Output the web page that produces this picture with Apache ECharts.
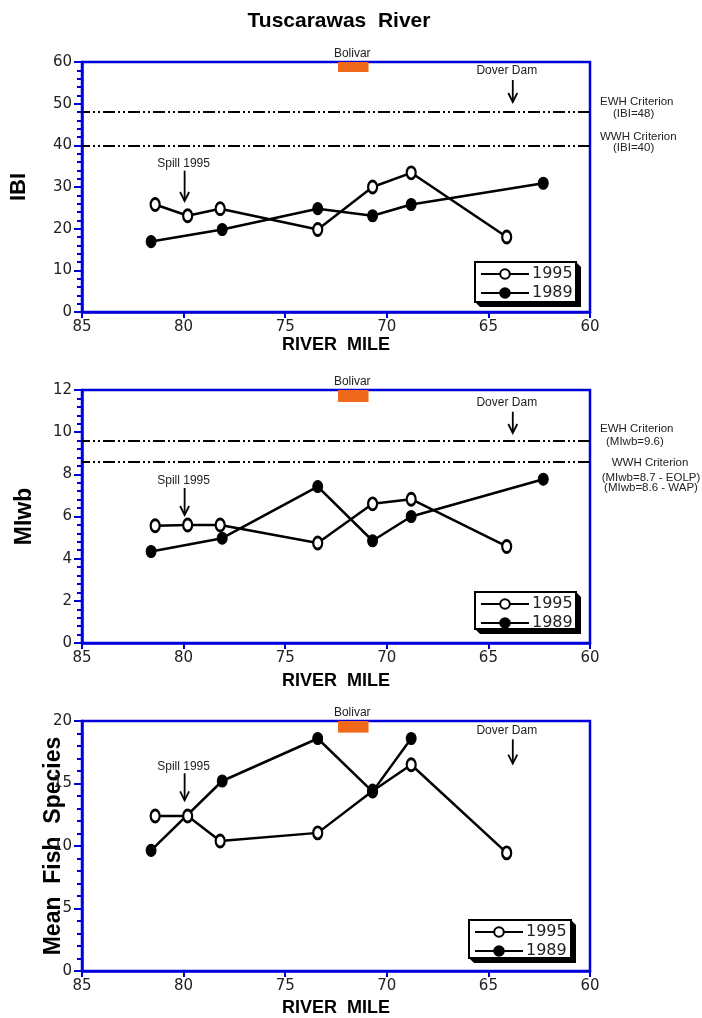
<!DOCTYPE html>
<html><head><meta charset="utf-8">
<script src="https://cdn.jsdelivr.net/npm/echarts@6/dist/echarts.min.js"></script>
<style>html,body{margin:0;padding:0;background:#fff}#c{width:702px;height:1018px}</style>
</head><body><div id="c"></div>
<script>
// ---- data ----
const xTicks = [85, 80, 75, 70, 65, 60];
const miles1995 = [81.4, 79.8, 78.2, 73.4, 70.7, 68.8, 64.1];
const miles1989 = [81.6, 78.1, 73.4, 70.7, 68.8, 62.3];
const ibi1995 = [25.8, 23.1, 24.8, 19.8, 30.0, 33.4, 18.0];
const ibi1989 = [16.9, 19.8, 24.8, 23.1, 25.8, 30.9];
const miwb1995 = [5.56, 5.6, 5.6, 4.74, 6.6, 6.82, 4.58];
const miwb1989 = [4.34, 4.97, 7.42, 4.85, 6.0, 7.77];
const species1995 = [12.4, 12.4, 10.4, 11.05, 14.4, 16.5, 9.45];
const species1989Miles = [81.6, 78.1, 73.4, 70.7, 68.8];
const species1989 = [9.65, 15.2, 18.6, 14.35, 18.6];
const ibiCriteria = [48, 40];
const miwbCriteria = [9.6, 8.6];
const ibiTicks = [0, 10, 20, 30, 40, 50, 60];
const miwbTicks = [0, 2, 4, 6, 8, 10, 12];
const speciesTicks = [0, 5, 10, 15, 20];
const bolivarMiles = [72.4, 70.9];
const seriesNames = ['1995', '1989'];

// ---- styling ----
const BLUE = '#0000dc';
const zip = (a, b) => a.map((v, i) => [v, b[i]]);
const ell = 'path://M10,0A10,10 0 1,1 10,20A10,10 0 1,1 10,0Z';
const dashPat = [12, 3, 2, 3, 2, 3];

const panels = [
  {top: 62, height: 250, yName: 'IBI', yNameSize: 22, yNameGap: 52, ticks: ibiTicks,
   v95: ibi1995, m89: miles1989, v89: ibi1989, crit: ibiCriteria, bolDepth: 2.4, xNameGap: 24,
   legendTop: 262, legendLeft: 475, legendW: 101, legendH: 40},
  {top: 390, height: 253, yName: 'MIwb', yNameSize: 23, yNameGap: 46, ticks: miwbTicks,
   v95: miwb1995, m89: miles1989, v89: miwb1989, crit: miwbCriteria, bolDepth: 0.57, xNameGap: 29,
   legendTop: 592, legendLeft: 475, legendW: 101, legendH: 37},
  {top: 721, height: 250, yName: 'Mean  Fish  Species', yNameSize: 23, yNameGap: 17, ticks: speciesTicks,
   v95: species1995, m89: species1989Miles, v89: species1989, crit: [], bolDepth: 0.93, xNameGap: 28,
   legendTop: 920, legendLeft: 469, legendW: 102, legendH: 38}
];

const grid = [], xAxis = [], yAxis = [], series = [], legend = [];
panels.forEach((p, i) => {
  const yMax = p.ticks[p.ticks.length - 1];
  grid.push({left: 82, width: 508, top: p.top, height: p.height, show: true,
    borderColor: BLUE, borderWidth: 2.5, backgroundColor: 'transparent'});
  xAxis.push({gridIndex: i, type: 'value', min: xTicks[xTicks.length - 1], max: xTicks[0],
    interval: 5, inverse: true,
    name: 'RIVER  MILE', nameLocation: 'middle', nameGap: p.xNameGap, nameMoveOverlap: false,
    nameTextStyle: {fontFamily: 'Liberation Sans', fontWeight: 'bold', fontSize: 18, color: '#000'},
    axisLine: {show: true, lineStyle: {color: BLUE, width: 2.5}},
    axisTick: {show: true, length: 6, lineStyle: {color: BLUE, width: 2}},
    axisLabel: {fontFamily: 'DejaVu Sans', fontSize: 15, color: '#222', margin: 8},
    splitLine: {show: false}});
  yAxis.push({gridIndex: i, type: 'value', min: 0, max: yMax, interval: p.ticks[1] - p.ticks[0],
    name: p.yName, nameLocation: 'middle', nameRotate: 90, nameGap: p.yNameGap, nameMoveOverlap: false,
    nameTextStyle: {fontFamily: 'Liberation Sans', fontWeight: 'bold', fontSize: p.yNameSize, color: '#000'},
    axisLine: {show: true, lineStyle: {color: BLUE, width: 2.5}},
    axisTick: {show: true, length: 8, lineStyle: {color: BLUE, width: 2}},
    minorTick: {show: true, splitNumber: 5, length: 5, lineStyle: {color: BLUE, width: 2}},
    axisLabel: {fontFamily: 'DejaVu Sans', fontSize: 15, color: '#222', margin: 10, padding: [0, 0, 4, 0]},
    splitLine: {show: false}});
  series.push({type: 'line', name: seriesNames[0], xAxisIndex: i, yAxisIndex: i,
    data: zip(miles1995, p.v95), symbol: ell, symbolSize: [9, 12], z: 4,
    lineStyle: {color: '#000', width: 2.5},
    itemStyle: {color: '#fff', borderColor: '#000', borderWidth: 2.5},
    markLine: {silent: true, symbol: ['none', 'none'], label: {show: false},
      lineStyle: {color: '#000', width: 2, type: dashPat},
      data: p.crit.map(v => ({yAxis: v}))},
    markArea: {silent: true, itemStyle: {color: '#f0691a', opacity: 1},
      data: [[{xAxis: bolivarMiles[0], yAxis: yMax}, {xAxis: bolivarMiles[1], yAxis: yMax - p.bolDepth}]]}
  });
  series.push({type: 'line', name: seriesNames[1], xAxisIndex: i, yAxisIndex: i,
    data: zip(p.m89, p.v89), symbol: ell, symbolSize: [10, 12], z: 4,
    lineStyle: {color: '#000', width: 2.5},
    itemStyle: {color: '#000', borderColor: '#000', borderWidth: 1}});
  legend.push({data: seriesNames, orient: 'vertical', left: p.legendLeft + 5, top: p.legendTop + 4,
    itemGap: 3, itemWidth: 48, itemHeight: 12, padding: 0, z: 20, selectedMode: false,
    textStyle: {fontFamily: 'DejaVu Sans', fontSize: 16, color: '#222', padding: [0, 0, 0, -2]}});
});

const chart = echarts.init(document.getElementById('c'), null, {renderer: 'canvas'});
chart.setOption({
  animation: false,
  title: {text: 'Tuscarawas  River', left: 334, top: 6, textAlign: 'center',
    textStyle: {fontFamily: 'Liberation Sans', fontWeight: 'bold', fontSize: 21, color: '#000'}},
  grid, xAxis, yAxis, series, legend
});

// ---- annotations ----
const graphics = [];
const txt = (text, x, y, align, size) => graphics.push({type: 'text', z: 10,
  style: {text, x, y, align: align || 'center', verticalAlign: 'middle',
    font: (size || 12) + 'px "Liberation Sans"', fill: '#222'}});
const arrow = (x, y0, y1) => {
  graphics.push({type: 'polyline', z: 10, shape: {points: [[x, y0], [x, y1]]}, style: {stroke: '#000', lineWidth: 1.8, fill: null}});
  graphics.push({type: 'polyline', z: 10, shape: {points: [[x - 4.5, y1 - 9], [x, y1], [x + 4.5, y1 - 9]]}, style: {stroke: '#000', lineWidth: 1.8, fill: null}});
};
const spillArrows = [[108.7, 139], [98, 125], [52.3, 79.3]];
const doverArrows = [[18, 40], [21.7, 43], [18.3, 42.6]];
panels.forEach((p, i) => {
  const xb = chart.convertToPixel({gridIndex: i}, [71.7, 0])[0];
  txt('Bolivar', xb, p.top - 8);
  const xs = chart.convertToPixel({gridIndex: i}, [79.95, 0])[0];
  const [s0, s1] = spillArrows[i];
  txt('Spill 1995', xs - 1, p.top + s0 - 7);
  arrow(xs, p.top + s0, p.top + s1);
  const xd = chart.convertToPixel({gridIndex: i}, [63.8, 0])[0];
  const [d0, d1] = doverArrows[i];
  txt('Dover Dam', xd - 6, p.top + d0 - 9);
  arrow(xd, p.top + d0, p.top + d1);
  // legend box with extruded shadow
  const L = p.legendLeft, T = p.legendTop, W = p.legendW, H = p.legendH, o = 5;
  graphics.push({type: 'polygon', z: 8, shape: {points: [[L + W, T], [L + W + o, T + o], [L + W + o, T + H + o], [L + o, T + H + o], [L, T + H]]}, style: {fill: '#000'}});
  graphics.push({type: 'rect', z: 9, shape: {x: L, y: T, width: W, height: H}, style: {fill: '#fff', stroke: '#000', lineWidth: 2}});
});
// criterion labels
txt('EWH Criterion', 600, 102, 'left', 11.5);
txt('(IBI=48)', 613, 113.5, 'left', 11.5);
txt('WWH Criterion', 600, 137, 'left', 11.5);
txt('(IBI=40)', 613, 148, 'left', 11.5);
txt('EWH Criterion', 600, 429, 'left', 11.5);
txt('(MIwb=9.6)', 606, 442, 'left', 11.5);
txt('WWH Criterion', 650, 462.5, 'center', 11.5);
txt('(MIwb=8.7 - EOLP)', 651, 477.5, 'center', 11.5);
txt('(MIwb=8.6 - WAP)', 651, 488, 'center', 11.5);
chart.setOption({graphic: graphics});
</script></body></html>
